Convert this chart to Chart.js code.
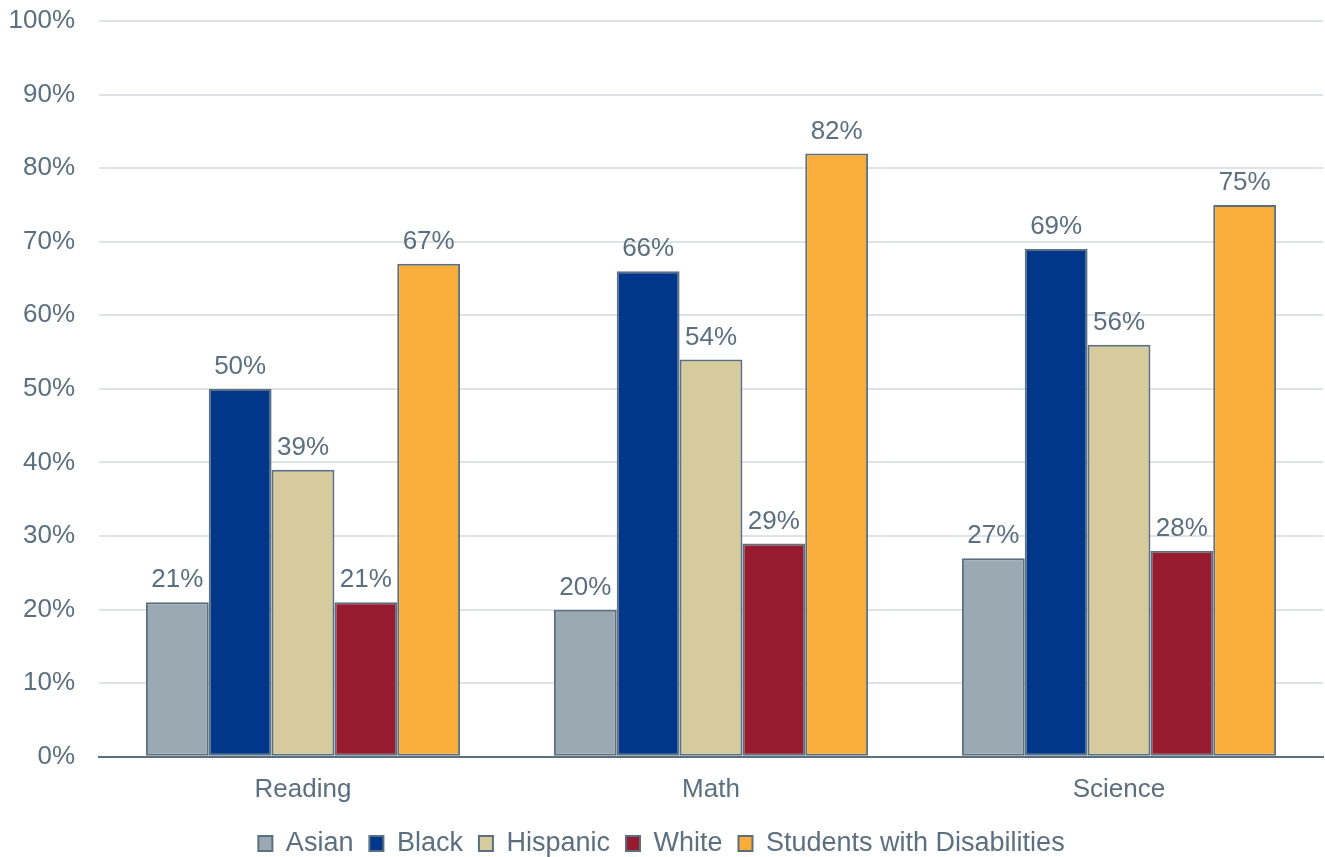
<!DOCTYPE html>
<html>
<head>
<meta charset="utf-8">
<script src="https://cdn.jsdelivr.net/npm/chart.js@4/dist/chart.umd.min.js"></script>
<style>
  html, body { margin: 0; padding: 0; background: #fff; }
  #wrap { width: 1325px; height: 857px; }
</style>
</head>
<body>
<div id="wrap"><canvas id="gapChart"></canvas></div>
<script>
/* data */
const subjects = ['Reading', 'Math', 'Science'];
const asian = [21, 20, 27];
const black = [50, 66, 69];
const hispanic = [39, 54, 56];
const white = [21, 29, 28];
const disabilities = [67, 82, 75];
const yTicks = [0, 10, 20, 30, 40, 50, 60, 70, 80, 90, 100];

const FONT = "'Liberation Sans', Arial, sans-serif";
const TEXT = '#5b6f80';
const EDGE = '#5b6f80';

/* labels above each bar */
const barLabels = {
    id: 'barLabels',
    afterDatasetsDraw(chart) {
        const ctx = chart.ctx;
        ctx.save();
        ctx.font = '26px ' + FONT;
        ctx.fillStyle = TEXT;
        ctx.textAlign = 'center';
        ctx.textBaseline = 'bottom';
        chart.data.datasets.forEach((ds, i) => {
            chart.getDatasetMeta(i).data.forEach((bar, j) => {
                ctx.fillText(ds.data[j] + '%', bar.x, bar.y - 9);
            });
        });
        ctx.restore();
    }
};

function series(label, data, color) {
    return {
        label: label,
        data: data,
        backgroundColor: color,
        borderColor: EDGE,
        borderWidth: 2,
        borderSkipped: false
    };
}

new Chart(document.getElementById('gapChart'), {
    type: 'bar',
    data: {
        labels: subjects,
        datasets: [
            series('Asian', asian, '#9ba9b2'),
            series('Black', black, '#00378b'),
            series('Hispanic', hispanic, '#d6cb9d'),
            series('White', white, '#961b2e'),
            series('Students with Disabilities', disabilities, '#f9ae3b')
        ]
    },
    options: {
        responsive: true,
        maintainAspectRatio: false,
        animation: false,
        layout: { padding: { top: 21, right: 2, left: 0, bottom: -10 } },
        datasets: { bar: { categoryPercentage: 0.77, barPercentage: 1.0 } },
        plugins: {
            legend: {
                position: 'bottom',
                labels: {
                    font: { family: FONT, size: 27 },
                    color: TEXT,
                    boxWidth: 14,
                    boxHeight: 15,
                    padding: 16
                }
            },
            tooltip: { enabled: false }
        },
        scales: {
            x: {
                grid: { display: false },
                border: { color: EDGE, width: 2 },
                ticks: { font: { family: FONT, size: 26 }, color: TEXT, padding: 9 }
            },
            y: {
                min: 0,
                max: 100,
                afterBuildTicks: axis => { axis.ticks = yTicks.map(v => ({ value: v })); },
                afterFit: axis => { axis.width = 99; },
                grid: {
                    color: '#dde3e8',
                    lineWidth: 2,
                    drawTicks: true,
                    tickLength: 24,
                    tickColor: 'transparent'
                },
                border: { display: false },
                ticks: {
                    font: { family: FONT, size: 26 },
                    color: TEXT,
                    padding: 0,
                    callback: v => v + '%'
                }
            }
        }
    },
    plugins: [barLabels]
});
</script>
</body>
</html>
